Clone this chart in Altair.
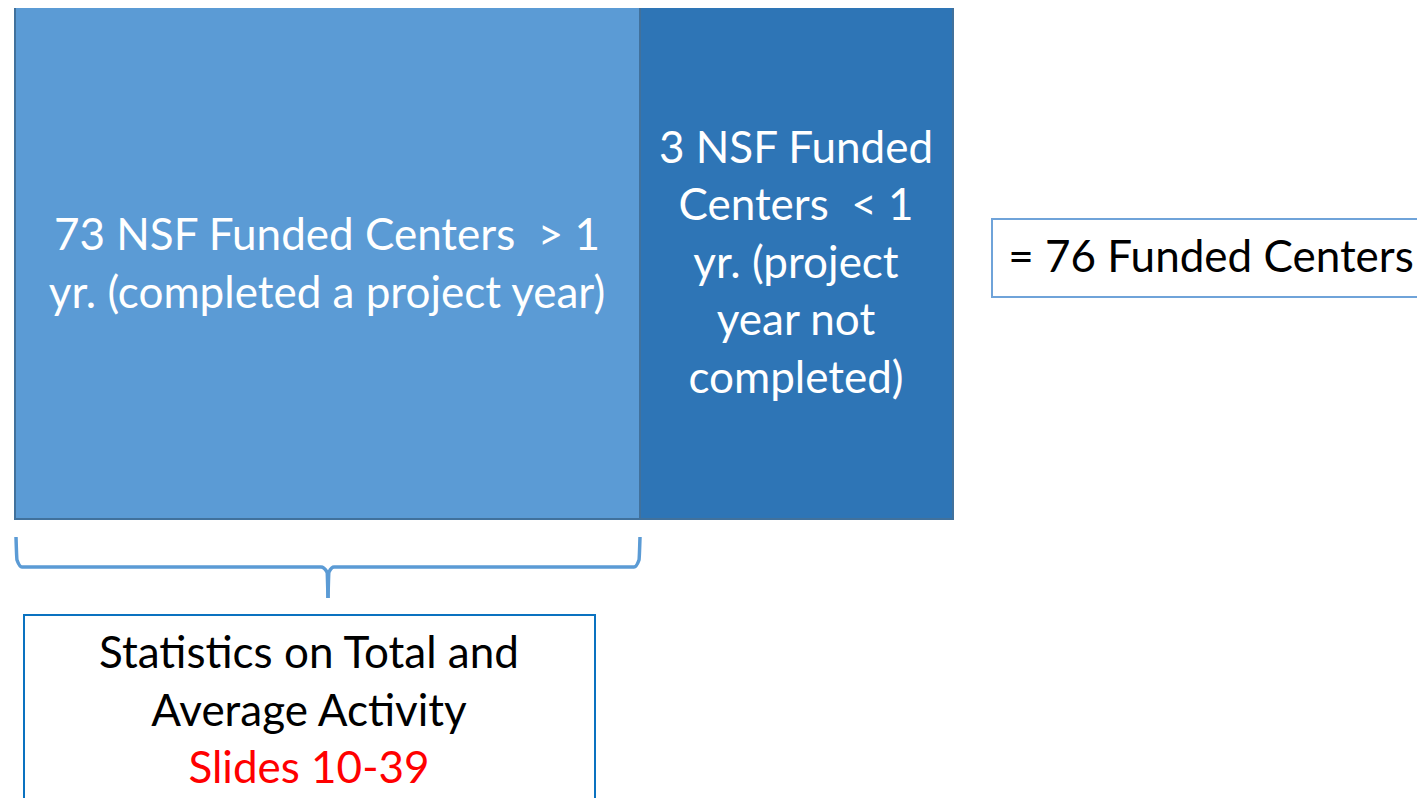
import altair as alt
import pandas as pd

# Diagram content
funded_total = 76
funded_gt1 = 73
funded_lt1 = 3

# Boxes (layout in page pixels)
box_names = ["gt1", "lt1", "total", "stats"]
box_x1 = [15, 640, 992, 24]
box_x2 = [640, 953, 1440, 595]
box_y1 = [6, 6, 219, 615]
box_y2 = [519, 519, 297, 840]
box_fill = ["#5B9BD5", "#2E75B6", "#FFFFFF", "#FFFFFF"]
box_stroke = ["#41719C", "#41719C", "#6FA3D9", "#0A72C0"]

# Text lines
NB = "\u00a0"
text_lines = [
    f"{funded_gt1} NSF Funded Centers{NB} > 1",
    "yr. (completed a project year)",
    f"{funded_lt1} NSF Funded",
    f"Centers{NB} < 1",
    "yr. (project",
    "year not",
    "completed)",
    f"= {funded_total} Funded Centers",
    "Statistics on Total and",
    "Average Activity",
    "Slides 10-39",
]
text_x = [327, 327, 796, 796, 796, 796, 796, 1211, 309, 309, 309]
text_y = [237, 295, 150, 207, 265, 322, 380, 259, 655, 713, 770]
text_color = ["#FFFFFF"] * 7 + ["#000000"] * 3 + ["#FF0000"]

# Brace path
brace_x = [16, 17, 22, 321, 327, 328, 328, 329, 334, 634, 639, 640]
brace_y = [537, 560, 567, 567, 572, 598, 598, 572, 567, 567, 560, 537]
brace_part = ["l"] * 6 + ["r"] * 6

W, H = 1409, 790
xs = alt.Scale(domain=[8, 8 + W], nice=False, zero=False)
ys = alt.Scale(domain=[8, 8 + H], nice=False, zero=False, reverse=True)

boxes = pd.DataFrame(dict(name=box_names, x1=box_x1, x2=box_x2, y1=box_y1, y2=box_y2,
                          fill=box_fill, stroke=box_stroke))
texts = pd.DataFrame(dict(t=text_lines, x=text_x, y=text_y, c=text_color))
brace = pd.DataFrame(dict(x=brace_x, y=brace_y, part=brace_part, o=list(range(len(brace_x)))))

rects = alt.Chart(boxes).mark_rect(clip=True, strokeWidth=2).encode(
    x=alt.X("x1:Q", scale=xs, axis=None),
    x2="x2:Q",
    y=alt.Y("y1:Q", scale=ys, axis=None),
    y2="y2:Q",
    fill=alt.Fill("fill:N", scale=None),
    stroke=alt.Stroke("stroke:N", scale=None),
)

brace_layer = alt.Chart(brace).mark_line(clip=True, strokeWidth=3.5, color="#5B9BD5",
                                         interpolate="monotone").encode(
    x=alt.X("x:Q", scale=xs, axis=None),
    y=alt.Y("y:Q", scale=ys, axis=None),
    detail="part:N",
    order="o:Q",
)

text_layer = alt.Chart(texts).mark_text(clip=True, font="Lato", fontSize=44,
                                        align="center", baseline="middle").encode(
    x=alt.X("x:Q", scale=xs, axis=None),
    y=alt.Y("y:Q", scale=ys, axis=None),
    text="t:N",
    color=alt.Color("c:N", scale=None),
)

chart = alt.layer(rects, brace_layer, text_layer).properties(
    width=W, height=H, padding=0, autosize=alt.AutoSizeParams(type="none")
).configure_view(stroke=None)

chart.save("out.html", embed_options={"renderer": "svg", "actions": False})
